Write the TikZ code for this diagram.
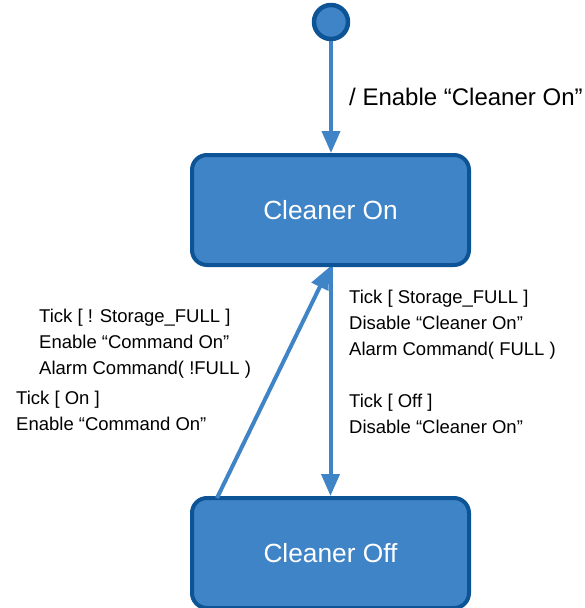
\documentclass[tikz,border=0pt]{standalone}
\usepackage{fontspec}
\setmainfont{Liberation Sans}
\usetikzlibrary{arrows.meta}
\definecolor{stfill}{HTML}{3F84C7}
\definecolor{stline}{HTML}{0D5497}
\begin{document}
\begin{tikzpicture}[x=1pt,y=-1pt,>={Triangle[width=18pt,length=22pt]}, line join=round,
	state/.style={draw=stline,fill=stfill,line width=4pt,rounded corners=15pt,minimum width=277pt,minimum height=110pt,text=white,font=\fontsize{26.3}{30}\selectfont},
	trans/.style={->,draw=stfill,line width=4pt},
	lbl/.style={anchor=west,inner sep=0pt,align=left,font=\fontsize{18.5}{26}\selectfont}]
	\useasboundingbox (0,0) rectangle (584,608);
	% Zustaende
	\node[circle,draw=stline,fill=stfill,line width=4.5pt,minimum size=34pt,inner sep=0pt] (init) at (331,22) {};
	\node[state] (on) at (330.5,210) {Cleaner On};
	\node[state] (off) at (330.5,553) {Cleaner Off};
	% Uebergaenge
	\draw[trans] (init) -- (init |- on.north);
	\draw[trans] (on) -- (off);
	\draw[trans] ([shift={(27,2)}]off.north west) -- ([xshift=-1pt]on.south);
	% Beschriftungen
	\node[lbl,font=\fontsize{24}{28}\selectfont] (lblinit) at (349,97) {/ Enable “Cleaner On”};
	\node[lbl] (lblfull) at (349,325) {Tick [ Storage\_FULL ]\\Disable “Cleaner On”\\Alarm Command( FULL )};
	\node[lbl] (lbloff) at (349,414) {Tick [ Off ]\\Disable “Cleaner On”};
	\node[lbl] (lblnotfull) at (39,344) {Tick [ ! Storage\_FULL ]\\Enable “Command On”\\Alarm Command( !FULL )};
	\node[lbl] (lblon) at (16,411) {Tick [ On ]\\Enable “Command On”};
\end{tikzpicture}
\end{document}
